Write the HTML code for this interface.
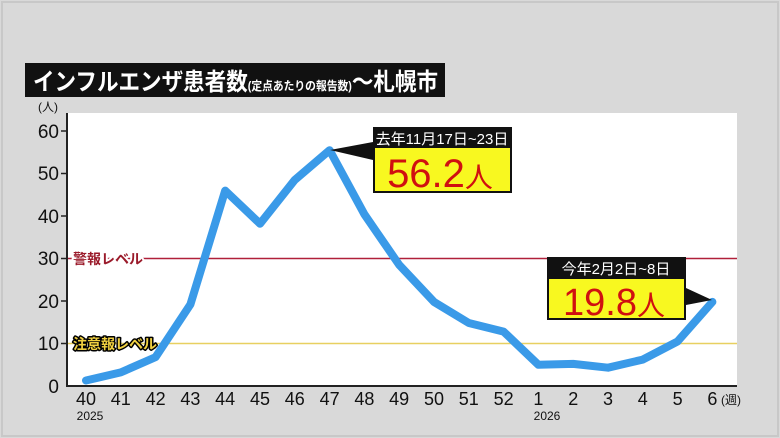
<!DOCTYPE html><html><head><meta charset="utf-8"><style>
body{margin:0;width:780px;height:438px;background:#d9d9d9;overflow:hidden;font-family:"Liberation Sans","Noto Sans CJK JP",sans-serif}
</style></head><body>
<svg width="780" height="438" viewBox="0 0 780 438" style="position:absolute;left:0;top:0" font-family="Liberation Sans, Noto Sans CJK JP, sans-serif">
<rect x="0" y="0" width="780" height="438" fill="#d9d9d9"/>
<rect x="2" y="2" width="776" height="434" fill="none" stroke="#c8c8c8" stroke-width="2"/>
<rect x="25" y="63" width="420" height="34" fill="#111"/>
<text x="33" y="90" font-size="24" font-weight="bold" fill="#fff" textLength="405" lengthAdjust="spacingAndGlyphs">インフルエンザ患者数<tspan font-size="12">(定点あたりの報告数)</tspan>〜札幌市</text>
<rect x="68" y="113" width="669" height="273" fill="#fff"/>
<line x1="68" y1="258.5" x2="737" y2="258.5" stroke="#b0203a" stroke-width="1.5"/>
<line x1="68" y1="343.5" x2="737" y2="343.5" stroke="#e8d060" stroke-width="1.5"/>
<g font-size="14" font-weight="bold" stroke-linejoin="round">
<text x="73" y="264" stroke="#fff" stroke-width="4" fill="none">警報レベル</text>
<text x="73" y="264" fill="#9a1a2a">警報レベル</text>
<text x="73" y="349" stroke="#000" stroke-width="3" fill="none">注意報レベル</text>
<text x="73" y="349" fill="#f0d040">注意報レベル</text>
</g>
<line x1="67" y1="113" x2="67" y2="387" stroke="#222" stroke-width="2"/>
<line x1="66" y1="386" x2="737" y2="386" stroke="#222" stroke-width="2"/>
<g font-size="19" fill="#111" text-anchor="end">
<text x="59" y="138">60</text><text x="59" y="180">50</text><text x="59" y="223">40</text><text x="59" y="265">30</text><text x="59" y="308">20</text><text x="59" y="350">10</text><text x="59" y="393">0</text>
</g>
<g stroke="#222" stroke-width="1.5">
<line x1="61" y1="131" x2="67" y2="131"/><line x1="61" y1="173.5" x2="67" y2="173.5"/><line x1="61" y1="216" x2="67" y2="216"/><line x1="61" y1="258.5" x2="67" y2="258.5"/><line x1="61" y1="301" x2="67" y2="301"/><line x1="61" y1="343.5" x2="67" y2="343.5"/>
</g>
<text x="38" y="111" font-size="12" fill="#111">(人)</text>
<g font-size="18" fill="#111" text-anchor="middle">
<text x="86" y="405">40</text><text x="120.8" y="405">41</text><text x="155.6" y="405">42</text><text x="190.4" y="405">43</text><text x="225.2" y="405">44</text><text x="260" y="405">45</text><text x="294.8" y="405">46</text><text x="329.6" y="405">47</text><text x="364.4" y="405">48</text><text x="399.2" y="405">49</text><text x="434" y="405">50</text><text x="468.8" y="405">51</text><text x="503.6" y="405">52</text><text x="538.4" y="405">1</text><text x="573.2" y="405">2</text><text x="608" y="405">3</text><text x="642.8" y="405">4</text><text x="677.6" y="405">5</text><text x="712.4" y="405">6</text>
</g>
<text x="90" y="420" font-size="12" fill="#111" text-anchor="middle">2025</text>
<text x="547" y="420" font-size="12" fill="#111" text-anchor="middle">2026</text>
<text x="721" y="404" font-size="12" fill="#111">(週)</text>
<polyline fill="none" stroke="#3a9ae8" stroke-width="8" stroke-linejoin="round" stroke-linecap="round" points="86,380.5 120.8,372.4 155.6,357.1 190.4,304.4 225.2,190.6 260,223.7 294.8,179.9 329.6,150.2 364.4,214.3 399.2,264.9 434,301.9 468.8,323 503.6,331.6 538.4,364.8 573.2,363.9 608,367.7 642.8,359.6 677.6,341.4 712.4,301.9"/>
<polygon points="373,142 373,160 330,150" fill="#111"/>
<rect x="373" y="127" width="139" height="66" fill="#111"/>
<rect x="375" y="148" width="135" height="43" fill="#f8f820"/>
<text x="442" y="144" font-size="15" fill="#fff" text-anchor="middle">去年11月17日~23日</text>
<text x="440" y="187" font-size="40" fill="#d01010" text-anchor="middle">56.2<tspan font-size="28">人</tspan></text>
<polygon points="686,288 686,305 712,300" fill="#111"/>
<rect x="547" y="257" width="139" height="63" fill="#111"/>
<rect x="549" y="279" width="135" height="39" fill="#f8f820"/>
<text x="616" y="274" font-size="15" fill="#fff" text-anchor="middle">今年2月2日~8日</text>
<text x="614" y="315" font-size="38" fill="#d01010" text-anchor="middle">19.8<tspan font-size="28">人</tspan></text>
</svg>
</body></html>
